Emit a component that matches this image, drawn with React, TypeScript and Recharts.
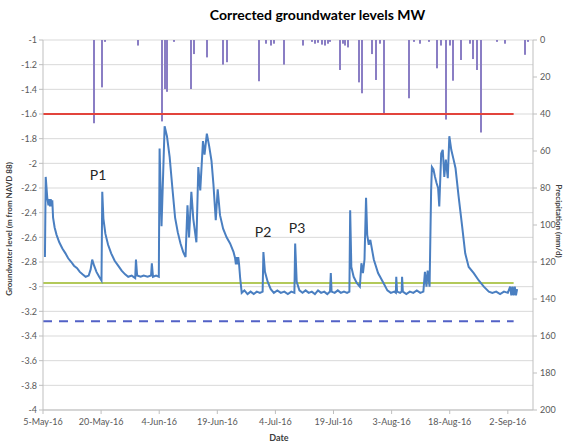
import React from "react";
import {
  ComposedChart,
  Bar,
  Line,
  XAxis,
  YAxis,
  CartesianGrid,
} from "recharts";

// days since 5-May-16
const dateTicks = [0, 15, 30, 45, 60, 75, 90, 105, 120];
const dateLabels = [
  "5-May-16",
  "20-May-16",
  "4-Jun-16",
  "19-Jun-16",
  "4-Jul-16",
  "19-Jul-16",
  "3-Aug-16",
  "18-Aug-16",
  "2-Sep-16",
];

const levelTicks = [-1, -1.2, -1.4, -1.6, -1.8, -2, -2.2, -2.4, -2.6, -2.8, -3, -3.2, -3.4, -3.6, -3.8, -4];
const precipTicks = [0, 20, 40, 60, 80, 100, 120, 140, 160, 180, 200];

const precipDays = [
  13.2, 15.2, 16.1, 24.6, 30.8, 31.4, 31.9, 33.9, 38.2, 39.1, 42.3, 46.4, 47.5, 55.8, 57.5, 58.8,
  59.6, 62.2, 67.1, 69.4, 70.3, 71.1, 72.0, 72.7, 73.5, 74.2, 76.7, 77.4, 78.0, 78.7, 81.7, 82.3,
  84.9, 86.0, 87.0, 88.0, 94.4, 95.7, 97.4, 99.6, 101.7, 102.8, 104.0, 105.0, 105.9, 107.9, 110.2,
  111.0, 112.1, 113.1, 117.2, 119.4, 124.5, 125.1,
];
const precipMm = [
  45, 25.6, 1, 3, 44, 26.5, 28, 1, 26.5, 7.6, 9.4, 13.3, 12, 22.3, 2, 3,
  2, 13.3, 3, 1, 2, 1.5, 2.5, 3, 2, 1, 16.2, 2, 3, 4, 22.9, 28.8,
  7.6, 21.6, 2, 40, 31.5, 1, 2, 1, 15.3, 3, 43, 3, 22, 10.8, 2,
  10.3, 16.2, 50, 1, 2, 8, 1,
];

const gwDays = [
  0.5, 0.7, 1.1, 1.4, 1.6, 1.8, 2.0, 2.2, 2.4, 2.6, 3.0, 3.5, 4.2, 5.0, 5.8, 6.5, 7.3, 8.0, 8.8, 9.5,
  10.2, 11.0, 11.8, 12.3, 12.7, 13.2, 13.8, 14.5, 15.1, 15.3, 15.6, 16.1, 16.8, 17.6, 18.5, 19.4,
  20.3, 21.2, 22.0, 22.9, 23.8, 24.0, 24.3, 25.2, 26.0, 27.0, 27.9, 28.1, 28.4, 29.2, 29.9, 30.1,
  30.6, 31.4, 32.0, 32.7, 33.4, 34.1, 34.8, 35.5, 36.2, 36.8, 37.3, 37.7, 38.3, 38.8, 39.6, 40.1,
  40.6, 41.3, 41.7, 42.3, 42.9, 43.5, 44.0, 44.6, 45.1, 45.7, 46.5, 47.4, 48.3, 49.2, 49.6, 49.8,
  50.0, 50.2, 50.4, 50.6, 50.9, 51.3, 52.0, 52.8, 53.6, 54.4, 55.2, 56.0, 56.7, 56.9, 57.3, 58.0,
  58.8, 59.6, 60.5, 61.4, 62.3, 63.2, 64.1, 64.9, 65.1, 65.5, 66.2, 67.0, 67.8, 68.6, 69.4, 70.2,
  71.0, 71.8, 72.6, 73.4, 74.1, 74.3, 74.5, 75.3, 76.1, 76.9, 77.7, 78.5, 79.1, 79.3, 79.6, 80.2,
  81.0, 81.8, 82.2, 82.6, 83.0, 83.4, 83.7, 84.1, 84.5, 85.4, 86.5, 87.9, 88.9, 89.8, 90.7, 91.1,
  91.2, 91.4, 92.2, 92.6, 92.7, 92.9, 93.8, 94.7, 95.6, 96.5, 97.4, 98.2, 98.6, 99.0, 99.3, 99.8,
  100.2, 100.4, 100.8, 101.2, 101.6, 102.0, 102.3, 102.8, 103.2, 103.6, 104.0, 104.5, 104.9, 105.4,
  106.0, 106.5, 107.3, 108.2, 109.0, 109.9, 111.2, 112.5, 113.8, 115.1, 116.0, 117.0, 118.0, 119.0,
  120.0, 120.6, 120.9, 121.2, 121.5, 121.8, 122.1, 122.4,
];
const gwLevels = [
  -2.76, -2.11, -2.28, -2.34, -2.29, -2.35, -2.29, -2.35, -2.3, -2.44, -2.52, -2.58, -2.64, -2.69, -2.73, -2.77, -2.8, -2.83, -2.85, -2.88,
  -2.9, -2.92, -2.91, -2.86, -2.78, -2.83, -2.88, -2.92, -2.95, -2.23, -2.45, -2.57, -2.66, -2.73, -2.79, -2.83,
  -2.87, -2.9, -2.92, -2.91, -2.93, -2.78, -2.91, -2.92, -2.91, -2.92, -2.91, -2.81, -2.92, -2.91, -2.92, -1.88,
  -2.51, -1.7, -1.78, -1.95, -2.2, -2.44, -2.56, -2.65, -2.72, -2.76, -2.34, -2.6, -2.23, -2.45, -2.64, -2.03,
  -2.22, -1.82, -1.93, -1.76, -1.86, -1.98, -2.17, -2.46, -2.21, -2.42, -2.53, -2.6, -2.65, -2.72, -2.77, -2.82,
  -2.76, -2.82, -2.76, -2.81, -2.93, -3.05, -3.03, -3.06, -3.04, -3.06, -3.04, -3.05, -3.04, -2.72, -2.88, -2.96,
  -3.02, -3.05, -3.03, -3.05, -3.04, -3.06, -3.04, -3.05, -2.65, -2.96, -3.03, -3.05, -3.03, -3.05, -3.04, -3.06,
  -3.03, -3.05, -3.04, -3.06, -3.04, -2.89, -3.04, -3.05, -3.03, -3.05, -3.04, -3.05, -3.04, -2.38, -2.84, -2.92,
  -2.97, -3.0, -2.81, -2.89, -2.78, -2.28, -2.58, -2.66, -2.62, -2.78, -2.89, -2.97, -3.03, -3.05, -3.04, -3.05,
  -2.92, -3.04, -3.05, -3.04, -2.92, -3.04, -3.06, -3.04, -3.05, -3.03, -3.05, -3.04, -2.88, -3.0, -2.87, -3.0,
  -2.22, -2.03, -2.05, -2.11, -2.16, -2.2, -2.35, -1.92, -1.89, -2.11, -1.97, -2.12, -1.78, -1.89,
  -1.97, -2.04, -2.27, -2.51, -2.73, -2.84, -2.89, -2.95, -3.0, -3.04, -3.05, -3.04, -3.06, -3.04,
  -3.05, -3.0, -3.07, -3.0, -3.07, -3.0, -3.07, -3.02,
];

// threshold lines, drawn over the monitoring period
const refDays = [0, 121.5];
const redLevel = -1.6;
const greenLevel = -2.97;
const dashedLevel = -3.28;

const precipData = precipDays.map((d, i) => ({ day: d, precip: precipMm[i] }));
const gwData = gwDays.map((d, i) => ({ day: d, gw: gwLevels[i] }));
const redData = refDays.map((d) => ({ day: d, v: redLevel }));
const greenData = refDays.map((d) => ({ day: d, v: greenLevel }));
const dashedData = refDays.map((d) => ({ day: d, v: dashedLevel }));

const tickStyle = { fontSize: 9, fill: "#595959", fontFamily: "Lato" };
const axisGray = "#bfbfbf";
const rainColor = "#8a7ec4";

// thin hanging bar, snapped to whole pixels so it stays crisp
function RainBar(props: any) {
  const { x, y, width, height } = props;
  if (height == null || width == null) return null;
  const cx = Math.round(x + width / 2);
  const top = Math.min(y, y + height);
  return <rect x={cx - 1} y={top} width={2} height={Math.abs(height)} fill={rainColor} />;
}

export default function App() {
  return (
    <div
      style={{
        position: "absolute",
        left: 0,
        top: 0,
        width: 565,
        height: 445,
        overflow: "hidden",
        background: "#fff",
        fontFamily: "Lato",
      }}
    >
      <div
        style={{
          position: "absolute",
          left: 0,
          width: 635,
          top: 6,
          textAlign: "center",
          fontWeight: 700,
          fontSize: 14,
          color: "#000",
        }}
      >
        Corrected groundwater levels MW
      </div>
      <ComposedChart
        width={565}
        height={445}
        data={precipData}
        margin={{ top: 40, right: 8, left: 8, bottom: 15 }}
      >
        <CartesianGrid yAxisId="left" vertical={false} stroke="#d9d9d9" />
        <XAxis
          dataKey="day"
          type="number"
          domain={[0, 126.5]}
          ticks={dateTicks}
          allowDataOverflow
          tickFormatter={(v) => dateLabels[dateTicks.indexOf(v)] ?? ""}
          tick={tickStyle}
          tickSize={4}
          tickMargin={5}
          stroke={axisGray}
          height={20}
        />
        <YAxis
          yAxisId="left"
          domain={[-4, -1]}
          ticks={levelTicks}
          tick={tickStyle}
          tickSize={4}
          stroke={axisGray}
          width={35}
          allowDataOverflow
        />
        <YAxis
          yAxisId="right"
          orientation="right"
          reversed
          domain={[0, 200]}
          ticks={precipTicks}
          tick={tickStyle}
          tickSize={4}
          tickMargin={3}
          stroke={axisGray}
          width={24}
        />
        <Bar
          yAxisId="right"
          dataKey="precip"
          fill={rainColor}
          barSize={2}
          shape={RainBar}
          isAnimationActive={false}
        />
        <Line
          yAxisId="left"
          data={redData}
          dataKey="v"
          stroke="#e2443c"
          strokeWidth={2}
          dot={false}
          isAnimationActive={false}
        />
        <Line
          yAxisId="left"
          data={greenData}
          dataKey="v"
          stroke="#b3c95a"
          strokeWidth={2}
          dot={false}
          isAnimationActive={false}
        />
        <Line
          yAxisId="left"
          data={dashedData}
          dataKey="v"
          stroke="#5261c6"
          strokeWidth={2}
          strokeDasharray="9 7"
          dot={false}
          isAnimationActive={false}
        />
        <Line
          yAxisId="left"
          data={gwData}
          dataKey="gw"
          stroke="#4a7fc1"
          strokeWidth={2}
          dot={false}
          isAnimationActive={false}
        />
      </ComposedChart>
      {[
        { t: "P1", x: 98, y: 175 },
        { t: "P2", x: 263, y: 232 },
        { t: "P3", x: 297, y: 228 },
      ].map((p) => (
        <div
          key={p.t}
          style={{
            position: "absolute",
            left: p.x - 20,
            width: 40,
            top: p.y - 9,
            textAlign: "center",
            fontSize: 14,
            color: "#262626",
          }}
        >
          {p.t}
        </div>
      ))}
      <div
        style={{
          position: "absolute",
          left: 9 - 100,
          top: 230 - 6,
          width: 200,
          textAlign: "center",
          fontSize: 8,
          fontWeight: 700,
          color: "#404040",
          transform: "rotate(-90deg)",
        }}
      >
        Groundwater level (m from NAVD 88)
      </div>
      <div
        style={{
          position: "absolute",
          left: 559 - 100,
          top: 222 - 6,
          width: 200,
          textAlign: "center",
          fontSize: 8,
          fontWeight: 700,
          color: "#404040",
          transform: "rotate(90deg)",
        }}
      >
        Precipitation (mm/d)
      </div>
      <div
        style={{
          position: "absolute",
          left: 279 - 50,
          top: 432,
          width: 100,
          textAlign: "center",
          fontSize: 9,
          fontWeight: 700,
          color: "#404040",
        }}
      >
        Date
      </div>
    </div>
  );
}
